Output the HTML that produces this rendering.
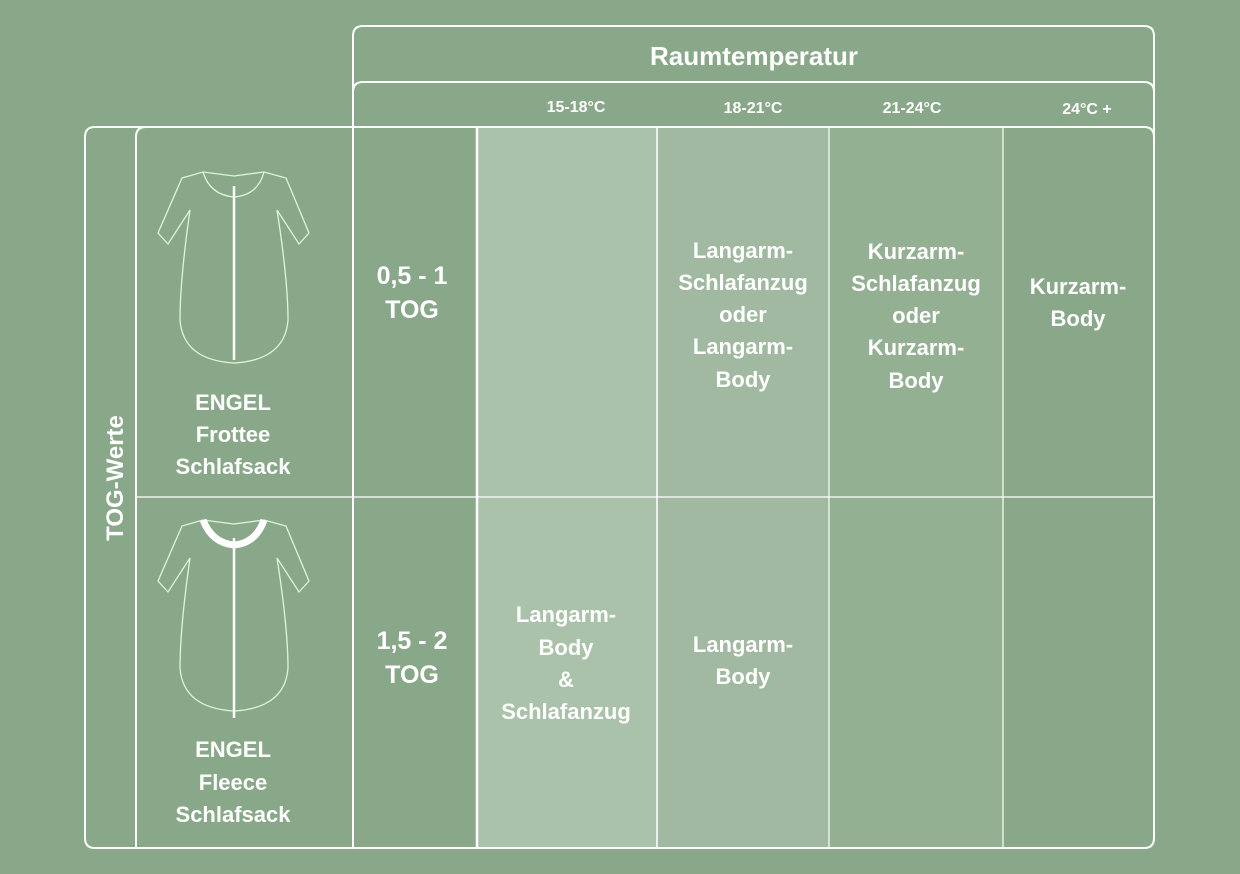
<!DOCTYPE html>
<html><head><meta charset="utf-8"><style>
html,body{margin:0;padding:0;background:#89a889;}
svg{display:block}
text{font-family:"Liberation Sans",sans-serif;font-weight:bold;fill:#fff;text-anchor:middle}
</style></head><body>
<svg width="1240" height="874" viewBox="0 0 1240 874" xmlns="http://www.w3.org/2000/svg">
<rect width="1240" height="874" fill="#89a889"/>
<rect x="477" y="127" width="180" height="721" fill="#a9c2a9"/>
<rect x="657" y="127" width="172" height="721" fill="#a0b9a0"/>
<rect x="829" y="127" width="174" height="721" fill="#94b093"/>
<g fill="none" stroke="#fff" stroke-width="2">
<path d="M353 848 V36 Q353 26 363 26 H1144 Q1154 26 1154 36 V838 Q1154 848 1144 848 H95 Q85 848 85 838 V137 Q85 127 95 127 H1144 Q1154 127 1154 137"/>
<path d="M353 92 Q353 82 363 82 H1144 Q1154 82 1154 92"/>
<path d="M136 848 V137 Q136 127 146 127"/>
<line x1="136" y1="497" x2="1154" y2="497" stroke-width="1.2"/>
<line x1="477" y1="127" x2="477" y2="848" stroke-width="2.5"/>
<line x1="657" y1="127" x2="657" y2="848" stroke-width="1.5"/>
<line x1="829" y1="127" x2="829" y2="848" stroke-width="1.2"/>
<line x1="1003" y1="127" x2="1003" y2="848" stroke-width="1.2"/>
</g>
<text x="754" y="65" font-size="26">Raumtemperatur</text>
<g font-size="16"><text x="576" y="112">15-18°C</text><text x="753" y="113">18-21°C</text><text x="912" y="113">21-24°C</text><text x="1087" y="114">24°C +</text></g>
<text transform="translate(123 478) rotate(-90)" font-size="24">TOG-Werte</text>
<g font-size="25"><text x="412" y="284">0,5 - 1</text><text x="412" y="318">TOG</text>
<text x="412" y="649">1,5 - 2</text><text x="412" y="683">TOG</text></g>
<g font-size="22">
<text x="233" y="410">ENGEL</text><text x="233" y="442">Frottee</text><text x="233" y="474">Schlafsack</text>
<text x="233" y="757">ENGEL</text><text x="233" y="790">Fleece</text><text x="233" y="822">Schlafsack</text>
<text x="743" y="258">Langarm-</text><text x="743" y="290">Schlafanzug</text><text x="743" y="322">oder</text><text x="743" y="354">Langarm-</text><text x="743" y="387">Body</text>
<text x="916" y="259">Kurzarm-</text><text x="916" y="291">Schlafanzug</text><text x="916" y="323">oder</text><text x="916" y="355">Kurzarm-</text><text x="916" y="388">Body</text>
<text x="1078" y="294">Kurzarm-</text><text x="1078" y="326">Body</text>
<text x="566" y="622">Langarm-</text><text x="566" y="655">Body</text><text x="566" y="687">&amp;</text><text x="566" y="719">Schlafanzug</text>
<text x="743" y="652">Langarm-</text><text x="743" y="684">Body</text>
</g>
<g fill="none" stroke="#dcf7d4" stroke-width="1.3">
<g id="bag">
<path d="M203 172 L182 178 L158 233 L168 244 L190 210 Q180 280 180 320 Q183 360 234 363 Q285 360 288 320 Q288 280 277 210 L299 244 L309 233 L286 178 L264 172 L234 176 Z"/>
<path d="M203 172 Q210 195 234 197 Q258 195 264 172"/>
<line x1="234" y1="186" x2="234" y2="360" stroke-width="2.5" stroke="#fff"/>
</g>
<g transform="translate(0 348)">
<path d="M203 172 L182 178 L158 233 L168 244 L190 210 Q180 280 180 320 Q183 360 234 363 Q285 360 288 320 Q288 280 277 210 L299 244 L309 233 L286 178 L264 172 L234 176 Z"/>
<path d="M203 172 Q212 195 234 197 Q256 195 264 172" stroke="#fff" stroke-width="7"/>
<line x1="234" y1="190" x2="234" y2="370" stroke-width="2.5" stroke="#fff"/>
</g>
</g>
</svg>
</body></html>
